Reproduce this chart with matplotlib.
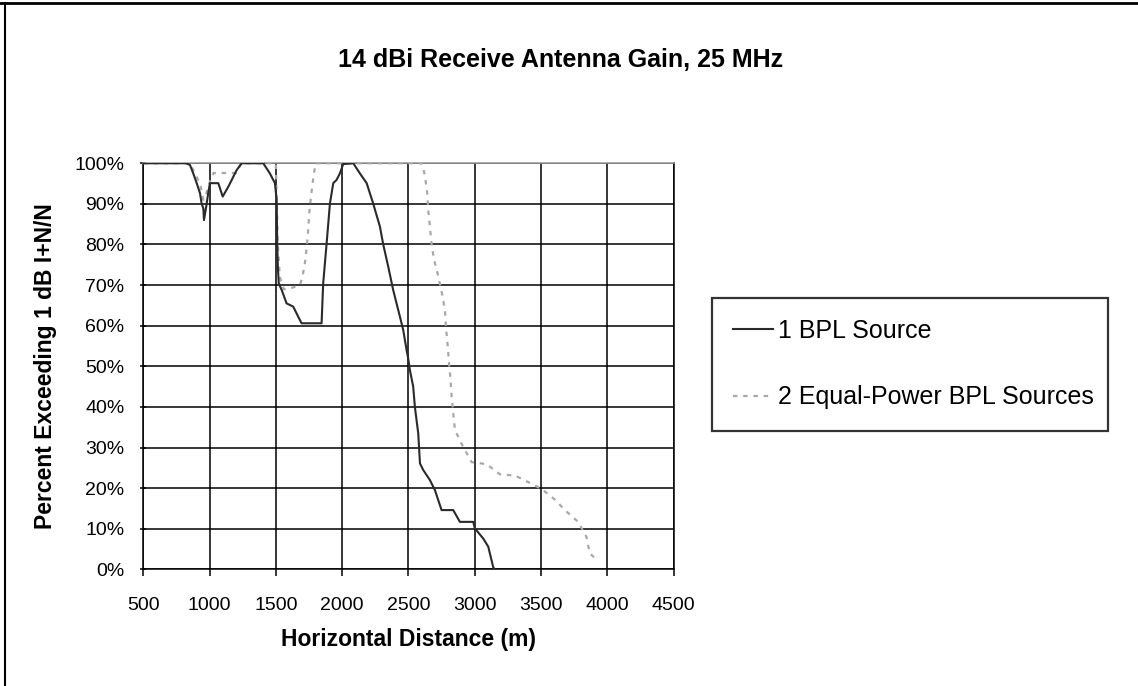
import matplotlib.pyplot as plt
from matplotlib.lines import Line2D

plt.rcParams['font.family'] = ['Liberation Sans', 'DejaVu Sans']

# horizontal distance (m) and percent exceeding 1 dB I+N/N, single source
dist_1 = [500, 820, 852, 877, 903, 928, 940, 953, 958, 978, 990, 1003, 1066, 1099,
          1141, 1204, 1242, 1405, 1455, 1493, 1506, 1510, 1515, 1522, 1544, 1581,
          1631, 1669, 1694, 1845, 1857, 1883, 1908, 1933, 1958, 1983, 2008, 2084,
          2134, 2185, 2234, 2285, 2310, 2348, 2385, 2436, 2461, 2486, 2498, 2511,
          2536, 2549, 2574, 2587, 2611, 2662, 2700, 2750, 2838, 2888, 2989, 3001,
          3064, 3102, 3139, 3150]
pct_1 = [100, 100, 99.6, 97.5, 95.1, 92.6, 90.1, 88.9, 86, 90, 92.7, 95.1, 95.1, 91.8,
         94.2, 98.3, 100, 100, 97.5, 95.1, 91, 80.3, 74.5, 70.4, 68.8, 65.5,
         64.7, 62.2, 60.6, 60.6, 70.4, 80.3, 90.1, 95.1, 95.9, 97.5, 99.8, 100,
         97.5, 95.1, 90.1, 84.4, 80, 74.5, 68.8, 62.2, 58.9, 54, 52, 49.1,
         45, 39.9, 33.5, 26.1, 24.5, 22, 19.5, 14.6, 14.6, 11.7, 11.7, 10.1,
         7.6, 5.6, 0.6, 0]

# two equal-power sources
dist_2 = [500, 850, 877, 928, 953, 970, 1003, 1030, 1200, 1240, 1500, 1506, 1515,
          1530, 1560, 1593, 1682, 1700, 1719, 1732, 1744, 1752, 1765, 1782, 1800,
          2600, 2624, 2642, 2649, 2662, 2675, 2694, 2725, 2755, 2775, 2783, 2796,
          2805, 2818, 2826, 2838, 2851, 2909, 2977, 3090, 3190, 3303, 3416, 3509,
          3604, 3680, 3780, 3843, 3868, 3900]
pct_2 = [100, 100, 98.3, 95, 91, 92, 95.5, 97.6, 97.6, 100, 100, 92, 80,
         72, 69, 69, 70, 72, 75.4, 79, 83.6, 87.7, 91.8, 96.3, 100,
         100, 97.1, 92.6, 88.5, 84.4, 79.9, 76.2, 72.2, 67.6, 64, 59.6, 55.2,
         51.1, 46.6, 42.5, 38.4, 34.3, 30.4, 26.4, 25.9, 23.4, 23.1, 21.3, 19.7,
         17.2, 14.6, 11.7, 8, 3.9, 3]

x_ticks = [500, 1000, 1500, 2000, 2500, 3000, 3500, 4000, 4500]
y_ticks = [0, 10, 20, 30, 40, 50, 60, 70, 80, 90, 100]

fig = plt.figure(figsize=(11.38, 6.86), dpi=100)
ax = fig.add_axes([0.1259, 0.170, 0.466, 0.592])

ax.plot(dist_1, pct_1, color='#2a2a2a', lw=1.5, label='1 BPL Source', zorder=4)
ax.plot(dist_2, pct_2, color='#a8a8a8', lw=1.6, linestyle=(0, (2, 2.6)),
        label='2 Equal-Power BPL Sources', zorder=3)

ax.set_xlim(500, 4500)
ax.set_ylim(0, 100)
ax.set_xticks(x_ticks)
ax.set_xticklabels([str(v) for v in x_ticks])
ax.set_yticks(y_ticks)
ax.set_yticklabels([f'{v}%' for v in y_ticks])
ax.grid(True, color='black', lw=1.1)
ax.set_axisbelow(True)

for s in ['left', 'bottom', 'right']:
    ax.spines[s].set_color('black')
    ax.spines[s].set_linewidth(1.1)
ax.spines['top'].set_color('#999999')
ax.spines['top'].set_linewidth(1.1)

ax.tick_params(axis='x', direction='out', length=5, width=1.1, labelsize=14, pad=15)
ax.tick_params(axis='y', direction='inout', length=5, width=1.1, labelsize=14, pad=11)

ax.set_xlabel('Horizontal Distance (m)', fontsize=16.5, fontweight='bold')
ax.xaxis.set_label_coords(0.5, -0.145)
ax.set_ylabel('Percent Exceeding 1 dB I+N/N', fontsize=16.5, fontweight='bold')
ax.yaxis.set_label_coords(-0.162, 0.5)

fig.text(0.493, 0.912, '14 dBi Receive Antenna Gain, 25 MHz', ha='center', va='center',
         fontsize=18, fontweight='bold')

leg = fig.legend(loc='upper left', bbox_to_anchor=(0.6254, 0.366, 0.348, 0.2),
                 mode='expand', fontsize=18, frameon=True, fancybox=False,
                 borderpad=0.85, labelspacing=1.7, handlelength=1.6,
                 handletextpad=0.2, borderaxespad=0)
leg.get_frame().set_edgecolor('black')
leg.get_frame().set_linewidth(1.6)

# outer chart frame (top and left edges)
fig.add_artist(Line2D([0, 1], [0.995, 0.995], transform=fig.transFigure,
                      color='black', lw=2))
fig.add_artist(Line2D([0.004, 0.004], [0, 0.995], transform=fig.transFigure,
                      color='black', lw=1.5))

fig.savefig('out.png', dpi=100)
